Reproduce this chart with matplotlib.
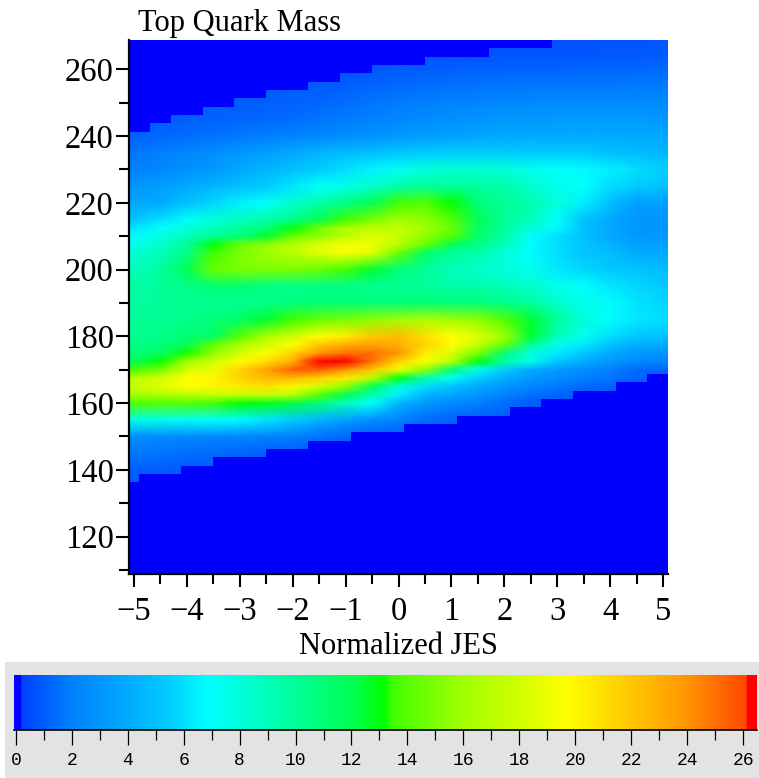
import matplotlib
matplotlib.use("Agg")
import numpy as np
import matplotlib.pyplot as plt
from matplotlib.colors import LinearSegmentedColormap, Normalize
from matplotlib.patches import Rectangle
from matplotlib.ticker import MultipleLocator

jes_nodes = [-5.09, -4.5, -4, -3.5, -3, -2.5, -2, -1.5, -1, -0.5, 0, 0.5, 1, 1.5, 2, 2.5, 3, 3.5, 4, 4.5, 5.09]
mass_nodes = [108.8, 115, 120, 125, 130, 135, 140, 145, 150, 155, 160, 162.5, 165, 167.5, 170, 172.5, 175, 177.5,
              180, 185, 190, 195, 200, 205, 207.5, 210, 212.5, 215, 220, 225, 230, 235, 240, 245, 250, 255, 260,
              265, 268.8]
density = [
    [0]*21, [0]*21, [0]*21, [0]*21, [0]*21,
    [1.0]*21,
    [1.1]+[1.0]*20,
    [1.8,1.7,1.5,1.4,1.3,1.1]+[1.0]*15,
    [2.7,2.6,2.5,2.4,2.3,2.1,2,1.6,1.3]+[1.0]*12,
    [7.5,7.5,7.2,7,6.8,6.2,5.5,4.5,3.5,2.8,2,1.5,1.2]+[1.0]*8,
    [14,14,14,13.6,13.2,12.8,12.3,11,9,7,4.5,3.2,2.5,2,1.5,1,1,1,1,1,1],
    [16,16.5,17,17.5,17.5,17.5,17,14,12,9.5,6.5,4.5,3.8,3,2.2,1.6,1.2,1,1,1,1],
    [17.5,18.5,19.7,20,20.5,21,20,18,15.5,12,8,6,5,4,3,2.4,1.8,1.4,1.2,1,1],
    [17,18,19.7,20,21.5,22.5,22.5,21.5,20.5,17,13,9.5,7.2,5.5,4.2,3.2,2.6,2,1.7,1.2,1],
    [13.5,15,18,19,21.5,23.5,25.5,25.5,24,22,19,15.5,11,7.5,5.5,4,3.2,2.6,2,1.4,1.2],
    [11.5,13.2,16,18,19.7,21,23,26.4,26.4,25,21.5,19.7,17,13,10,7.5,5.3,4.2,3.2,2.5,2.2],
    [11,11.5,13.3,15.5,18,19.7,21.5,24,25,25,24,20.5,18.5,15,11,8,6.3,5.3,4,3.2,3],
    [10.5,11,12,14.5,16.5,18,19.7,22,23,23.5,23,21.5,19.7,17.5,14.5,10,7.5,6.3,5,4.2,4],
    [10.3,10.5,11,11.5,14,16.5,18,19.7,20.5,22,22.5,21,19.7,18.5,16,12.5,9,7.5,6,5.2,5],
    [10,10.2,10.5,11,11.5,12.5,13.5,14.5,15,15.5,16,16.5,16,15.5,14,12.5,10,8,7,6.3,6],
    [9.8,10,10.2,10.3,10.3,10.5,10.8,11,11,11,11,11,11,11,10.5,10,8.5,7.5,6.8,6.2,5.7],
    [9.5,10,10.5,11.2,11.2,10.5,10.5,10.5,10.5,10.3,10,10,9.5,9.5,9,8.5,7.5,7,6.3,5.8,5.3],
    [9,9.8,12,14.5,15,15,15,14.5,13.5,12.5,11,10,9,8.5,8,7.5,6.3,5.8,5.3,5.2,4.8],
    [8,9,10.5,13.5,15,16,17,18.5,19.5,18.5,14.5,11.5,10,9.5,8,7,6,5.3,4.8,4,4],
    [7.5,8.5,10,13,14.5,15.5,17,18.5,19.5,19,17,14.5,12,10.5,9,7,6,5.2,4.5,3.6,3.6],
    [6.8,7.8,9,10,11,12.5,14.5,15.5,17,18.5,17.5,15.5,14,11.5,9.5,7,6,5,4,3.2,3.2],
    [6,7,8,9,10,11,13,14.8,16.5,17,17.5,16,14.5,11.5,10,8,6.8,5,4,3,3],
    [5,6,7.2,8,8.8,9.5,10.5,12,13.5,15,16,15.5,14,12,10,9,7,5,4,3,3],
    [3.8,4,5,5.8,6.5,7,8.5,9.5,10.5,12,13.5,14,13.2,11,10,9.5,8,6.5,4.9,3.5,3.5],
    [3,3.5,4,4.5,5,5.4,6.2,7,7.5,8.5,9.5,10,10,9.8,9.5,8.5,7.5,7,6,5.5,5],
    [2,2.4,2.8,3.2,3.8,4.5,5,5.5,6,6.6,7.2,8,8.3,8.3,8,7.5,7,6.8,6.5,6,5.5],
    [1.7,2,2.4,2.8,3.2,3.5,4,4.5,4.8,5,5.3,5.5,5.5,5.5,5.5,5.5,5.5,5.4,5,4.8,4.5],
    [1.2,1.3,1.5,1.6,1.8,2,2.2,2.4,2.7,2.9,3.2,3.4,3.6,3.8,3.9,4,4,4,4,4,3.9],
    [0.9,1,1.1,1.2,1.3,1.4,1.5,1.7,1.9,2.1,2.4,2.6,2.8,3,3.1,3.2,3.3,3.3,3.3,3.3,3.2],
    [0.8,0.8,0.9,1,1,1.1,1.2,1.3,1.5,1.7,1.9,2,2.2,2.3,2.4,2.5,2.5,2.5,2.5,2.5,2.5],
    [0.7,0.7,0.7,0.8,0.8,0.9,1,1,1.1,1.3,1.4,1.5,1.6,1.7,1.7,1.8,1.8,1.8,1.8,1.9,1.9],
    [0.7,0.7,0.7,0.7,0.7,0.7,0.7,0.7,0.7,0.9,1,1.05,1.1,1.1,1.2,1.2,1.2,1.3,1.3,1.3,1.4],
    [0.6,0.6,0.6,0.6,0.6,0.6,0.6,0.6,0.6,0.6,0.7,0.7,0.7,0.8,0.8,0.8,0.8,0.8,0.9,0.9,1.0],
    [0.6,0.6,0.6,0.6,0.6,0.6,0.6,0.6,0.6,0.6,0.6,0.6,0.7,0.7,0.7,0.8,0.8,0.8,0.8,0.8,1.0],
]

# Edges of the empty (zero-likelihood) region, per 0.2-wide JES bin
jes_bin_edges = np.arange(-5.1, 5.11, 0.2)
lower_edge = [136.25]+[138.75]*4+[141.25]*3+[143.75]*5+[146.25]*4+[148.75]*4+[151.25]*5+[153.75]*5+[156.25]*5 \
    +[158.75]*3+[161.25]*3+[163.75]*4+[166.25]*3+[168.75]*2
upper_edge = [241.25]*2+[243.75]*2+[246.25]*3+[248.75]*3+[251.25]*3+[253.75]*4+[256.25]*3+[258.75]*3+[261.25]*5 \
    +[263.75]*6+[266.25]*6+[268.8]*11

colour_stops = [(-0.05,'#0000ff'),(0.2,'#0000ff'),(0.25,'#0040ff'),(2,'#0080ff'),(4,'#00aaff'),(5.5,'#00ccff'),
                (6.9,'#00ffff'),(8.5,'#00ffcc'),(10,'#00ff99'),(12,'#00ff55'),(13.2,'#00ff00'),(13.5,'#40ff00'),
                (16,'#a0ff00'),(18,'#d0ff00'),(19.7,'#ffff00'),(22,'#ffc800'),(24,'#ff9600'),(26.15,'#ff4800'),
                (26.2,'#ff0000'),(26.5,'#ff0000')]
vmin, vmax = -0.05, 26.5

W, H = 759, 778
plt.rcParams['font.family'] = ['Liberation Serif', 'DejaVu Serif']
fig = plt.figure(figsize=(W/100, H/100), dpi=100, facecolor='white')

def axes_px(l, t, r, b):
    return fig.add_axes([l/W, 1-b/H, (r-l)/W, (b-t)/H])

fig.add_artist(Rectangle((5/W, 0), (W-5)/W, (H-662)/H, transform=fig.transFigure,
                         facecolor='#e3e3e3', edgecolor='none', zorder=-5))

cmap = LinearSegmentedColormap.from_list(
    'topmass', [((v-vmin)/(vmax-vmin), c) for v, c in colour_stops], N=1024)
norm = Normalize(vmin, vmax)

ax = axes_px(129, 40, 668, 574)
mesh = ax.pcolormesh(jes_nodes, mass_nodes, np.array(density, float), cmap=cmap, norm=norm,
                     shading='gouraud', rasterized=True)
ax.stairs(lower_edge, jes_bin_edges, baseline=108, fill=True, color='#0000ff', lw=0)
ax.stairs(upper_edge, jes_bin_edges, baseline=270, fill=True, color='#0000ff', lw=0)
ax.set_xlim(-5.09, 5.09)
ax.set_ylim(108.8, 268.75)
for s in ('top', 'right'):
    ax.spines[s].set_visible(False)
for s in ('left', 'bottom'):
    ax.spines[s].set_linewidth(1.6)
ax.xaxis.set_major_locator(MultipleLocator(1))
ax.xaxis.set_minor_locator(MultipleLocator(0.5))
ax.yaxis.set_major_locator(MultipleLocator(20))
ax.yaxis.set_minor_locator(MultipleLocator(10))
ax.tick_params(which='major', length=9.4, width=1.5, labelsize=23.5)
ax.tick_params(which='minor', length=7.2, width=1.5)
ax.tick_params(axis='x', which='major', pad=6.5)
ax.tick_params(axis='y', which='major', pad=1.5)
ax.set_xlabel('Normalized JES', fontsize=22, labelpad=0)
ax.xaxis.set_label_coords((398-129)/539, -(654-574)/534)
ax.xaxis.label.set_va('baseline')
fig.text(138/W, 1-31/H, 'Top Quark Mass', fontsize=22, ha='left', va='baseline')

cax = axes_px(14.5, 675, 757, 730)
cbar = fig.colorbar(mesh, cax=cax, orientation='horizontal')
cbar.solids.set_edgecolor('face')
cbar.outline.set_visible(False)
cax.xaxis.set_major_locator(MultipleLocator(2))
cax.xaxis.set_minor_locator(MultipleLocator(1))
cax.spines['bottom'].set_visible(True)
cax.spines['bottom'].set_linewidth(1.2)
cax.tick_params(which='major', length=11, width=0.9, labelsize=13, pad=4.5)
cax.tick_params(which='minor', length=7, width=0.9)
for t in cax.get_xticklabels():
    t.set_family('Liberation Mono')

fig.savefig('out.png', dpi=100)
